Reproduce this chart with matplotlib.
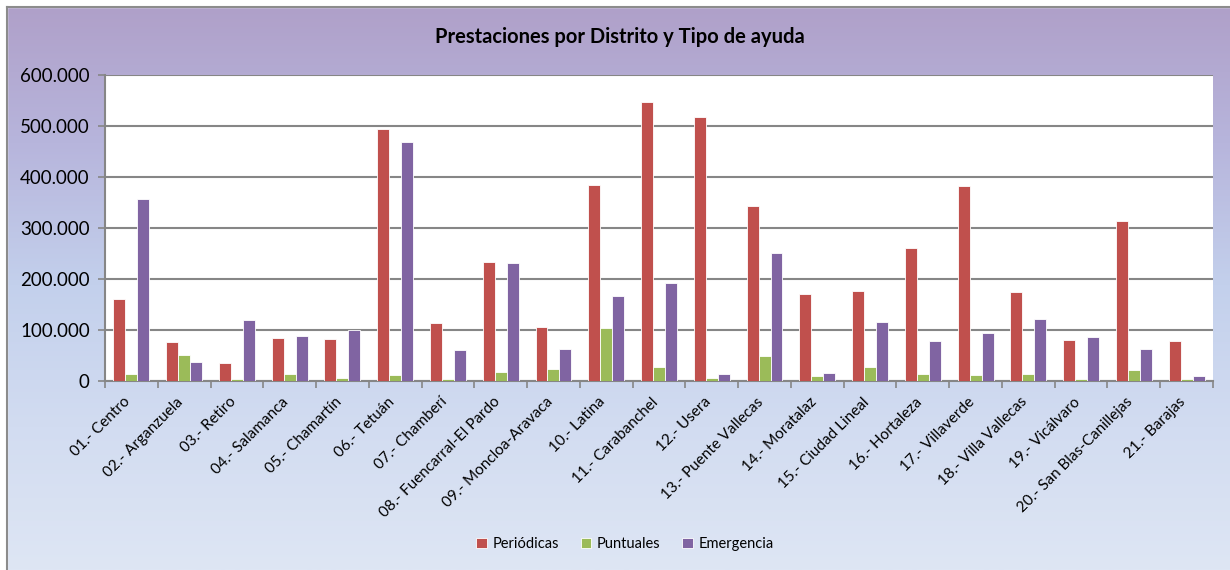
import numpy as np
import matplotlib
matplotlib.use("Agg")
import matplotlib.pyplot as plt
from matplotlib.colors import LinearSegmentedColormap
from matplotlib.patches import Rectangle
from matplotlib.ticker import FuncFormatter, FixedLocator, NullLocator

plt.rcParams["font.family"] = ["Lato", "DejaVu Sans"]

distritos = [
    "01.- Centro", "02.- Arganzuela", "03.- Retiro", "04.- Salamanca",
    "05.- Chamartín", "06.- Tetuán", "07.- Chamberí",
    "08.- Fuencarral-El Pardo", "09.- Moncloa-Aravaca", "10.- Latina",
    "11.- Carabanchel", "12.- Usera", "13.- Puente Vallecas",
    "14.- Moratalaz", "15.- Ciudad Lineal", "16.- Hortaleza",
    "17.- Villaverde", "18.- Villa Vallecas", "19.- Vicálvaro",
    "20.- San Blas-Canillejas", "21.- Barajas",
]
periodicas = [160300, 76600, 36000, 85100, 83100, 493300, 114500, 234200,
              106000, 383400, 547700, 516900, 343500, 171400, 176000,
              261100, 381500, 174700, 79800, 314700, 78500]
puntuales = [14400, 50400, 3000, 14400, 5900, 12400, 3000, 17000, 22900,
             104700, 27500, 5900, 48400, 9200, 27500, 13700, 11100, 13100,
             3000, 20900, 3000]
emergencia = [356600, 37300, 120400, 87700, 99500, 467800, 60900, 232300,
              62800, 166800, 193000, 13700, 251900, 16400, 115200, 77900,
              93600, 121700, 86400, 62800, 9800]

series = [
    ("Periódicas", periodicas, "#C0504D"),
    ("Puntuales", puntuales, "#9BBB59"),
    ("Emergencia", emergencia, "#8064A2"),
]

W, H = 1230, 570
fig = plt.figure(figsize=(W / 100, H / 100), dpi=100)

# fondo degradado lila -> azul claro
bg = fig.add_axes([0, 0, 1, 1], zorder=-2)
bg.set_axis_off()
cmap = LinearSegmentedColormap.from_list(
    "fondo", ["#AF9FC8", "#B7B5DC", "#C3D0EC", "#D2DCF1", "#DEE6F4"])
grad = np.linspace(0, 1, 256).reshape(-1, 1)
bg.imshow(grad, cmap=cmap, aspect="auto", extent=[0, 1, 0, 1], origin="upper")
bg.set_xlim(0, 1)
bg.set_ylim(0, 1)
# franja blanca exterior y marco gris
x0, y0 = 7 / W, 1 - 7 / H
bg.add_patch(Rectangle((0, 0), x0, 1, color="white", zorder=3))
bg.add_patch(Rectangle((0, y0), 1, 1 - y0, color="white", zorder=3))
bg.plot([x0, x0], [0, y0], color="#8C8C8C", lw=1.5, zorder=4)
bg.plot([x0, 1], [y0, y0], color="#8C8C8C", lw=1.5, zorder=4)

ax = fig.add_axes([105 / W, 1 - 381 / H, (1213 - 105) / W, (381 - 75) / H])
ax.set_facecolor("white")

x = np.arange(len(distritos))
w = 0.227
for k, (nombre, vals, color) in enumerate(series):
    ax.bar(x + (k - 1) * w, vals, w, color=color, edgecolor="white",
           linewidth=0.6, label=nombre, zorder=3)

ax.set_xlim(-0.5, len(distritos) - 0.5)
ax.set_ylim(0, 600000)
ax.set_yticks(np.arange(0, 600001, 100000))
ax.yaxis.set_major_formatter(
    FuncFormatter(lambda v, p: f"{int(v):,}".replace(",", ".")))
ax.grid(axis="y", color="#868686", lw=1.5, zorder=1)
ax.set_axisbelow(True)

ax.xaxis.set_major_locator(FixedLocator(x - 0.15))
ax.set_xticklabels(distritos, rotation=45, ha="right", rotation_mode="anchor",
                   fontsize=11)
ax.xaxis.set_minor_locator(FixedLocator(np.arange(-0.5, len(distritos), 1)))
ax.tick_params(axis="x", which="major", length=0, pad=10)
ax.tick_params(axis="x", which="minor", length=5, width=1.2, color="#868686")
ax.tick_params(axis="y", length=5, width=1.2, color="#868686", labelsize=13.5,
               pad=6)
ax.yaxis.set_minor_locator(NullLocator())

for s in ["top", "right"]:
    ax.spines[s].set_visible(False)
for s in ["left", "bottom"]:
    ax.spines[s].set_color("#868686")
    ax.spines[s].set_linewidth(1.5)

fig.text(620 / W, 1 - 37 / H, "Prestaciones por Distrito y Tipo de ayuda",
         ha="center", va="center", fontsize=14.5, fontweight="bold")

fig.legend(loc="center", bbox_to_anchor=(625 / W, 1 - 544 / H), ncol=3,
           frameon=False, fontsize=10.5, handlelength=0.7, handleheight=0.7,
           handletextpad=0.4, columnspacing=1.5)

fig.savefig("out.png", dpi=100)
